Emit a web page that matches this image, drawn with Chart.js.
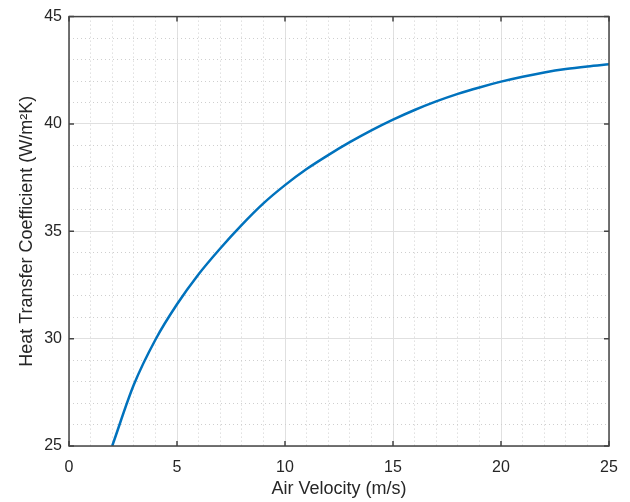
<!DOCTYPE html>
<html>
<head>
<meta charset="utf-8">
<script src="https://cdn.jsdelivr.net/npm/chart.js@4/dist/chart.umd.min.js"></script>
<style>
  body { margin: 0; background: #fff; }
  canvas { display: block; }
</style>
</head>
<body>
<canvas id="htcChart" width="630" height="502"></canvas>
<script>
// air velocity (m/s) and heat transfer coefficient (W/m²K)
const velocity = [2, 3, 4, 5, 6, 7, 8, 9, 10, 11, 12, 13, 14, 15, 16, 17, 18, 19, 20, 21, 22, 23, 24, 25];
const htc = [25.0, 27.85, 29.95, 31.6, 33.0, 34.2, 35.3, 36.3, 37.15, 37.9, 38.55, 39.15,
             39.7, 40.2, 40.65, 41.05, 41.4, 41.7, 41.97, 42.2, 42.4, 42.56, 42.68, 42.78];
const xTicks = [0, 5, 10, 15, 20, 25];
const yTicks = [25, 30, 35, 40, 45];

const axisColor = '#444444';
const textColor = '#262626';
const fontFamily = "'Liberation Sans', Arial, sans-serif";

const isMajor = (v, list) => list.includes(v);

// MATLAB style box with inward tick marks
const boxPlugin = {
  id: 'box',
  afterDraw(chart) {
    const { ctx, chartArea: a } = chart;
    const xs = chart.scales.x, ys = chart.scales.y;
    ctx.save();
    ctx.strokeStyle = axisColor;
    ctx.lineWidth = 1.5;
    ctx.strokeRect(a.left, a.top, a.right - a.left, a.bottom - a.top);
    ctx.beginPath();
    xTicks.forEach(v => {
      const px = xs.getPixelForValue(v);
      ctx.moveTo(px, a.bottom); ctx.lineTo(px, a.bottom - 5);
      ctx.moveTo(px, a.top); ctx.lineTo(px, a.top + 5);
    });
    yTicks.forEach(v => {
      const py = ys.getPixelForValue(v);
      ctx.moveTo(a.left, py); ctx.lineTo(a.left + 5, py);
      ctx.moveTo(a.right, py); ctx.lineTo(a.right - 5, py);
    });
    ctx.stroke();
    ctx.restore();
  }
};

const gridOpts = list => ({
  drawTicks: false,
  color: c => isMajor(c.tick && c.tick.value, list) ? '#e0e0e0' : '#cfcfcf',
  lineWidth: 1
});
const borderOpts = list => ({
  display: false,
  dash: c => (c.tick && !isMajor(c.tick.value, list)) ? [1, 3] : []
});

new Chart(document.getElementById('htcChart'), {
  type: 'line',
  data: {
    datasets: [{
      data: velocity.map((v, i) => ({ x: v, y: htc[i] })),
      borderColor: '#0072BD',
      borderWidth: 2.5,
      pointRadius: 0,
      cubicInterpolationMode: 'monotone',
      fill: false
    }]
  },
  options: {
    responsive: false,
    animation: false,
    layout: { padding: { top: 12, right: 21, left: 0, bottom: 0 } },
    plugins: { legend: { display: false }, tooltip: { enabled: false } },
    scales: {
      x: {
        type: 'linear',
        min: 0, max: 25,
        afterFit: s => { s.height = 56; },
        ticks: {
          stepSize: 1, autoSkip: false, maxRotation: 0,
          padding: 12,
          color: textColor,
          font: { family: fontFamily, size: 16 },
          callback: v => isMajor(v, xTicks) ? String(v) : ''
        },
        grid: gridOpts(xTicks),
        border: borderOpts(xTicks),
        title: {
          display: true,
          text: 'Air Velocity (m/s)',
          color: textColor,
          font: { family: fontFamily, size: 18 },
          padding: { top: 0, bottom: 2 }
        }
      },
      y: {
        min: 25, max: 45,
        afterFit: s => { s.width = 69; },
        ticks: {
          stepSize: 1, autoSkip: false,
          padding: 7,
          color: textColor,
          font: { family: fontFamily, size: 16 },
          callback: v => isMajor(v, yTicks) ? String(v) : ''
        },
        grid: gridOpts(yTicks),
        border: borderOpts(yTicks),
        title: {
          display: true,
          text: 'Heat Transfer Coefficient (W/m²K)',
          color: textColor,
          font: { family: fontFamily, size: 18 },
          padding: { top: 16, bottom: 0 }
        }
      }
    }
  },
  plugins: [boxPlugin]
});
</script>
</body>
</html>
